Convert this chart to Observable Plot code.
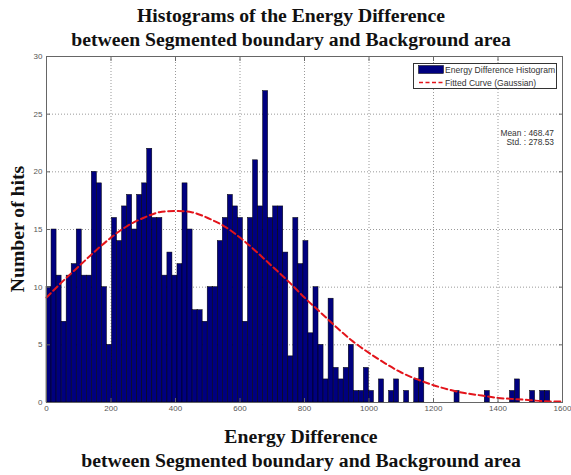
<!DOCTYPE html>
<html>
<head>
<meta charset="utf-8">
<script src="https://cdn.jsdelivr.net/npm/d3@7"></script>
<script src="https://cdn.jsdelivr.net/npm/@observablehq/plot@0.6"></script>
<style>
  body { margin: 0; background: #fff; }
  #chart { width: 571px; height: 475px; }
</style>
</head>
<body>
<div id="chart"></div>
<script>
// ---- texts ----
const titleLines = ["Histograms of the Energy Difference", "between Segmented boundary and Background area"];
const xLabelLines = ["Energy Difference", "between Segmented boundary and Background area"];
const yLabel = "Number of hits";
const legendLabels = ["Energy Difference Histogram", "Fitted Curve (Gaussian)"];
const statsLines = ["Mean : 468.47", "Std. : 278.53"];

// ---- axes ----
const xTicks = [0, 200, 400, 600, 800, 1000, 1200, 1400, 1600];
const yTicks = [0, 5, 10, 15, 20, 25, 30];

// ---- histogram (100 bins between data min and max) ----
const binStart = 0;
const binEnd = 1562;
const binCount = 100;
const counts = [
  10, 15, 11, 7, 11, 12, 15, 11, 11, 20,
  19, 10, 5, 16, 14, 17, 18, 15, 18, 19,
  22, 16, 16, 11, 13, 11, 12, 19, 15, 8,
  8, 7, 10, 10, 14, 16, 18, 17, 16, 7,
  16, 21, 17, 27, 16, 17, 17, 13, 4, 16,
  12, 14, 6, 10, 5, 2, 9, 3, 2, 3,
  5, 1, 1, 3, 1, 0, 2, 0, 1, 2,
  0, 1, 0, 2, 3, 0, 0, 0, 0, 0,
  0, 1, 0, 0, 0, 0, 0, 1, 0, 0,
  0, 0, 1, 2, 0, 0, 1, 0, 1, 1
];

// ---- fitted curve ----
const curveX = [0, 50, 100, 150, 200, 250, 300, 350, 400, 450, 500, 550, 600, 650, 700, 750, 800,
                850, 900, 950, 1000, 1050, 1100, 1150, 1200, 1250, 1300, 1350, 1400, 1450, 1500, 1550, 1600];
const curveY = [9.1, 10.5, 11.8, 13.1, 14.3, 15.3, 16.0, 16.5, 16.6, 16.5, 16.0, 15.3, 14.3, 13.1, 11.8, 10.5, 9.1,
                7.8, 6.5, 5.3, 4.3, 3.4, 2.6, 2.0, 1.5, 1.1, 0.8, 0.6, 0.4, 0.3, 0.2, 0.1, 0.1];

const binWidth = (binEnd - binStart) / binCount;
const bins = counts.map((c, i) => ({x1: binStart + i * binWidth, x2: binStart + (i + 1) * binWidth, count: c}))
                   .filter(d => d.count > 0);
const curve = curveX.map((x, i) => ({x, y: curveY[i]}));

const barFill = "#00007f";
const red = "#e3141b";
const serif = "'Liberation Serif', 'Times New Roman', serif";
const sans = "'Liberation Sans', Arial, Helvetica, sans-serif";
const plain = d => String(d);

const chart = Plot.plot({
  width: 571,
  height: 475,
  marginLeft: 46,
  marginRight: 9,
  marginTop: 56,
  marginBottom: 73,
  style: {fontFamily: sans, fontSize: "8px", color: "#555", background: "#fff"},
  x: {domain: [0, 1600]},
  y: {domain: [0, 30]},
  marks: [
    Plot.gridX(xTicks, {stroke: "#999", strokeOpacity: 1, strokeDasharray: "1,2"}),
    Plot.gridY(yTicks, {stroke: "#999", strokeOpacity: 1, strokeDasharray: "1,2"}),
    Plot.rectY(bins, {x1: "x1", x2: "x2", y: "count", fill: barFill, stroke: "#000", strokeWidth: 0.5}),
    Plot.line(curve, {x: "x", y: "y", stroke: red, strokeWidth: 2, strokeDasharray: "6,3.5", curve: "natural"}),
    Plot.frame({stroke: "#666"}),
    Plot.axisX(xTicks, {anchor: "bottom", tickSize: -4, tickPadding: 7, tickFormat: plain, label: null, stroke: "#666", fill: "#555"}),
    Plot.axisX(xTicks, {anchor: "top", tickSize: -4, tickFormat: () => "", label: null, stroke: "#666"}),
    Plot.axisY(yTicks, {anchor: "left", tickSize: -4, tickPadding: 8, tickFormat: plain, label: null, stroke: "#666", fill: "#555"}),
    Plot.axisY(yTicks, {anchor: "right", tickSize: -4, tickFormat: () => "", label: null, stroke: "#666"})
  ]
});

document.getElementById("chart").appendChild(chart);

// ---- annotations: titles, axis labels, legend, stats ----
const svg = d3.select(chart);
const ann = svg.append("g");

const titleY = [22, 46];
titleLines.forEach((t, i) => {
  ann.append("text").attr("x", 291).attr("y", titleY[i]).attr("text-anchor", "middle")
    .attr("font-family", serif).attr("font-weight", "bold").attr("font-size", "19.7px")
    .attr("fill", "#111").text(t);
});

const xLabY = [443, 467];
xLabelLines.forEach((t, i) => {
  ann.append("text").attr("x", 301).attr("y", xLabY[i]).attr("text-anchor", "middle")
    .attr("font-family", serif).attr("font-weight", "bold").attr("font-size", "19.7px")
    .attr("fill", "#111").text(t);
});

ann.append("text").attr("transform", "translate(24,229) rotate(-90)").attr("text-anchor", "middle")
  .attr("font-family", serif).attr("font-weight", "bold").attr("font-size", "19.7px")
  .attr("fill", "#111").text(yLabel);

// legend
const lg = ann.append("g");
lg.append("rect").attr("x", 413.5).attr("y", 63.5).attr("width", 143).attr("height", 25)
  .attr("fill", "#fff").attr("stroke", "#333").attr("stroke-width", 1);
lg.append("rect").attr("x", 418.5).attr("y", 65.5).attr("width", 25).attr("height", 8)
  .attr("fill", barFill).attr("stroke", "#000").attr("stroke-width", 0.5);
lg.append("line").attr("x1", 419).attr("x2", 443).attr("y1", 82.5).attr("y2", 82.5)
  .attr("stroke", red).attr("stroke-width", 1.5).attr("stroke-dasharray", "4,2.5");
const legY = [73, 85.5];
legendLabels.forEach((t, i) => {
  lg.append("text").attr("x", 445).attr("y", legY[i]).attr("text-anchor", "start").attr("font-family", sans)
    .attr("font-size", "8.6px").attr("fill", "#333").text(t);
});

const statY = [135.5, 144.5];
statsLines.forEach((t, i) => {
  ann.append("text").attr("x", 554).attr("y", statY[i]).attr("text-anchor", "end")
    .attr("font-family", sans).attr("font-size", "8.4px").attr("fill", "#333").text(t);
});
</script>
</body>
</html>
